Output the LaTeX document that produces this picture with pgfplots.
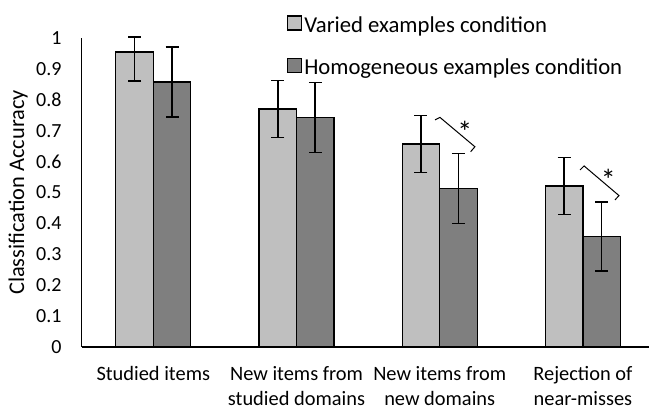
\documentclass[border=0pt]{standalone}
\usepackage{fontspec}
\setmainfont{Carlito}
\usepackage{pgfplots}
\pgfplotsset{compat=1.18}
\definecolor{lightbar}{HTML}{BFBFBF}
\definecolor{darkbar}{HTML}{7F7F7F}
\begin{document}
\begin{tikzpicture}
\begin{axis}[
  at={(81.7bp,64bp)}, anchor=south west,
  scale only axis, width=572.8bp, height=309bp,
  xmin=-0.5, xmax=3.5, ymin=0, ymax=1,
  axis x line=bottom, axis y line=left,
  axis line style={-, line width=1.3bp, black},
  major tick length=0pt,
  ytick={0,0.1,0.2,0.3,0.4,0.5,0.6,0.7,0.8,0.9,1},
  /pgf/number format/.cd, fixed, precision=1, assume math mode=true, /pgfplots/.cd,
  yticklabel style={font=\fontsize{20bp}{24bp}\selectfont, inner sep=0pt, xshift=-20bp},
  xtick={0,1,2,3},
  xticklabels={Studied items, New items from\\studied domains, New items from\\new domains, Rejection of\\near-misses},
  xticklabel style={font=\fontsize{20.4bp}{25bp}\selectfont, align=center, inner sep=0pt, anchor=north, yshift=-19bp},
  ylabel={Classification Accuracy},
  ylabel style={font=\fontsize{22.4bp}{24bp}\selectfont, at={(rel axis cs:-0.111,0.5)}, anchor=center},
  ybar=0pt, bar width=37.5bp,
  clip=false,
  legend style={at={(rel axis cs:0.358,1.074)}, anchor=north west, draw=none, fill=none,
    font=\fontsize{22.7bp}{24bp}\selectfont, inner sep=0pt, row sep=24bp,
    nodes={inner xsep=2bp, inner ysep=0pt}},
  legend cell align=left,
  legend image code/.code={\draw[#1, draw=black, line width=1.3bp] (0bp,-5bp) rectangle (14bp,9bp);},
]
\addplot[fill=lightbar, draw=black, line width=1.3bp,
  error bars/.cd, y dir=both, y explicit,
  error bar style={line width=1.6bp, black},
  error mark options={rotate=90, mark size=6.5bp, line width=1.6bp, black}]
  coordinates {
    (0,0.955) += (0,0.048) -= (0,0.094)
    (1,0.770) +- (0,0.092)
    (2,0.657) +- (0,0.092)
    (3,0.521) +- (0,0.092)
  };
\addplot[fill=darkbar, draw=black, line width=1.3bp,
  error bars/.cd, y dir=both, y explicit,
  error bar style={line width=1.6bp, black},
  error mark options={rotate=90, mark size=6.5bp, line width=1.6bp, black}]
  coordinates {
    (0,0.858) +- (0,0.113)
    (1,0.743) +- (0,0.113)
    (2,0.513) +- (0,0.113)
    (3,0.357) +- (0,0.112)
  };
\legend{Varied examples condition, Homogeneous examples condition}
\draw[line width=1bp, black] (axis cs:1.967,0.735) -- (axis cs:2.002,0.743) -- (axis cs:2.246,0.648) -- (axis cs:2.216,0.632);
\node[font=\fontsize{30bp}{30bp}\selectfont, inner sep=0pt] at (axis cs:2.175,0.697) {*};
\draw[line width=1bp, black] (axis cs:2.980,0.573) -- (axis cs:3.008,0.586) -- (axis cs:3.252,0.490) -- (axis cs:3.224,0.476);
\node[font=\fontsize{30bp}{30bp}\selectfont, inner sep=0pt] at (axis cs:3.177,0.541) {*};
\end{axis}
\pgfresetboundingbox
\path[use as bounding box] (0,0) rectangle (649bp,411bp);
\end{tikzpicture}
\end{document}
